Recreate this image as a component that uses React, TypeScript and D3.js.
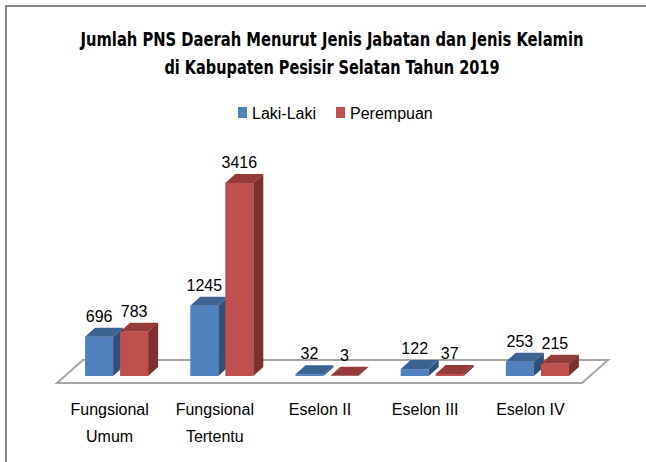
import React from 'react';
import { scaleBand, scaleLinear } from 'd3';

const categories = ['Fungsional Umum', 'Fungsional Tertentu', 'Eselon II', 'Eselon III', 'Eselon IV'];
const categoryLines = [['Fungsional', 'Umum'], ['Fungsional', 'Tertentu'], ['Eselon II'], ['Eselon III'], ['Eselon IV']];
const seriesNames = ['Laki-Laki', 'Perempuan'];
const lakiLaki = [696, 1245, 32, 122, 253];
const perempuan = [783, 3416, 3, 37, 215];
const titleLines = [
  'Jumlah PNS Daerah Menurut Jenis Jabatan dan Jenis Kelamin',
  'di Kabupaten Pesisir Selatan Tahun 2019',
];

const W = 646;
const H = 462;
const baseY = 376;
const DX = 10;
const DY = 9;

const palette = [
  { front: '#4F81BD', top: '#3B6494', side: '#2F5079' },
  { front: '#C0504D', top: '#933C3A', side: '#7D302E' },
];

const font = '"Liberation Sans", Arial, sans-serif';
const narrow = '"Liberation Sans Narrow", "Arial Narrow", "DejaVu Sans Condensed", sans-serif';

export default function App() {
  const x0 = scaleBand<string>().domain(categories).range([64, 590]).padding(0);
  const groupW = 63;
  const x1 = scaleBand<string>().domain(seriesNames).range([0, groupW]).paddingInner(0.2);
  const y = scaleLinear().domain([0, 4000]).range([baseY, baseY - 226]);
  const values = [lakiLaki, perempuan];

  const bars = categories.flatMap((c, i) =>
    seriesNames.map((s, j) => {
      const x = (x0(c) ?? 0) + (x0.bandwidth() - groupW) / 2 + (x1(s) ?? 0);
      const w = x1.bandwidth();
      const v = values[j][i];
      const yt = y(v);
      const yb = y(0);
      const col = palette[j];
      return (
        <g key={`${c}-${s}`}>
          <rect x={x} y={yt} width={w} height={yb - yt} fill={col.front} />
          <polygon
            points={`${x},${yt} ${x + w},${yt} ${x + w + DX},${yt - DY} ${x + DX},${yt - DY}`}
            fill={col.top}
          />
          <polygon
            points={`${x + w},${yt} ${x + w + DX},${yt - DY} ${x + w + DX},${yb - DY} ${x + w},${yb}`}
            fill={col.side}
          />
          <text
            x={x + w / 2}
            y={yt - DY - 6}
            textAnchor="middle"
            fontFamily={font}
            fontSize={16}
            fill="#000"
          >
            {v}
          </text>
        </g>
      );
    }),
  );

  const floorFrontY = 383;
  const floorBackY = 360;

  return (
    <svg
      width={W}
      height={H}
      style={{ position: 'absolute', left: 0, top: 0, background: '#fff' }}
    >
      <rect x={6} y={6} width={W + 10} height={H + 10} fill="#fff" stroke="#878787" strokeWidth={2} />
      {titleLines.map((t, i) => (
        <text
          key={t}
          x={332}
          y={46 + i * 28}
          textAnchor="middle"
          fontFamily={narrow}
          fontWeight="bold"
          fontSize={19}
          textLength={i === 0 ? 503 : 335}
          lengthAdjust="spacingAndGlyphs"
          fill="#000"
        >
          {t}
        </text>
      ))}
      {seriesNames.map((s, j) => {
        const lx = j === 0 ? 238 : 336;
        return (
          <g key={s}>
            <rect x={lx} y={107} width={9} height={11} fill={palette[j].front} />
            <text x={lx + 14} y={119} fontFamily={font} fontSize={16} fill="#000">
              {s}
            </text>
          </g>
        );
      })}
      <polygon
        points={`57,${floorFrontY} 582,${floorFrontY} 608,${floorBackY} 83,${floorBackY}`}
        fill="#fff"
        stroke="#A6A6A6"
        strokeWidth={2}
      />
      {bars}
      {categories.map((c, i) => {
        const cx = (x0(c) ?? 0) + x0.bandwidth() / 2 - 7;
        return (
          <text key={c} textAnchor="middle" fontFamily={font} fontSize={16} fill="#000">
            {categoryLines[i].map((line, k) => (
              <tspan key={line} x={cx} y={415 + k * 27}>
                {line}
              </tspan>
            ))}
          </text>
        );
      })}
    </svg>
  );
}
